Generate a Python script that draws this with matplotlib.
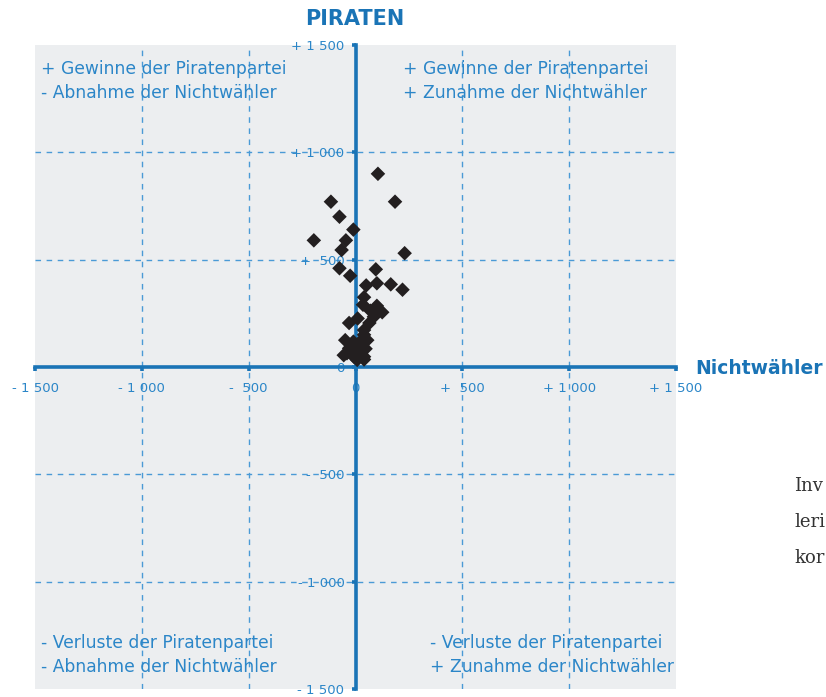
import matplotlib
matplotlib.use("Agg")
import matplotlib.pyplot as plt

# Veränderung Nichtwähler (x) vs. Piraten (y)
nichtwaehler = [105, -115, 185, -75, -10, -195, -45, -65, 230, -75, 95, -25,
                50, 100, 165, 220, 40, 35, 100, 70, 125, 10, 86, -30, 65,
                40, 40, -48, 55, -10, 22, 5, -30, 8, 47, -40, 23, -8, 40,
                8, 40, -15, -55, 30]
piraten = [900, 770, 770, 700, 640, 590, 590, 545, 530, 460, 455, 425,
           380, 390, 385, 360, 325, 290, 285, 262, 255, 226, 234, 205, 205,
           172, 150, 125, 125, 118, 118, 95, 87, 87, 85, 64, 70, 48, 48,
           33, 35, 75, 55, 100]

tick_vals = [-1500, -1000, -500, 0, 500, 1000, 1500]
x_labels = ["- 1 500", "- 1 000", "-  500", "0", "+  500", "+ 1 000", "+ 1 500"]
y_labels = ["- 1 500", "- 1 000", "-  500", "0", "+  500", "+ 1 000", "+ 1 500"]
grid_vals = [-1000, -500, 500, 1000]

# Quadrantentexte: (Text, x-Anteil, y-Anteil der Achse)
quadrants = [
    ("+ Gewinne der Piratenpartei", 0.009, 0.962),
    ("- Abnahme der Nichtwähler", 0.009, 0.925),
    ("+ Gewinne der Piratenpartei", 0.574, 0.962),
    ("+ Zunahme der Nichtwähler", 0.574, 0.925),
    ("- Verluste der Piratenpartei", 0.009, 0.071),
    ("- Abnahme der Nichtwähler", 0.009, 0.034),
    ("- Verluste der Piratenpartei", 0.616, 0.071),
    ("+ Zunahme der Nichtwähler", 0.616, 0.034),
]

axis_blue = "#1a74b6"
text_blue = "#2b86c8"
grid_blue = "#4a9ad6"

fig = plt.figure(figsize=(8.26, 6.97), dpi=100)
ax = fig.add_axes([35 / 826, 1 - 689 / 697, 641 / 826, 644 / 697])
ax.set_facecolor("#eceef0")
ax.set_xlim(-1500, 1500)
ax.set_ylim(-1500, 1500)

for v in grid_vals:
    ax.axhline(v, color=grid_blue, lw=1.0, dashes=(4, 4), zorder=1)
    ax.axvline(v, color=grid_blue, lw=1.0, dashes=(4, 4), zorder=1)

for s in ["top", "right"]:
    ax.spines[s].set_visible(False)
for s in ["left", "bottom"]:
    ax.spines[s].set_position("zero")
    ax.spines[s].set_color(axis_blue)
    ax.spines[s].set_linewidth(2.6)
    ax.spines[s].set_zorder(3)

ax.set_xticks(tick_vals)
ax.set_xticklabels(x_labels)
ax.set_yticks(tick_vals)
ax.set_yticklabels(y_labels)
ax.tick_params(axis="x", direction="out", length=3, width=2.6, color=axis_blue,
               labelcolor=text_blue, labelsize=9.5, pad=8)
ax.tick_params(axis="y", direction="out", length=3, width=2.6, color=axis_blue,
               labelcolor=text_blue, labelsize=9.5, pad=5)

ax.scatter(nichtwaehler, piraten, marker="D", s=55, color="#231f20",
           edgecolors="none", zorder=4, clip_on=False)

for txt, qx, qy in quadrants:
    ax.text(qx, qy, txt, transform=ax.transAxes, color=text_blue,
            fontsize=12.3, va="center", ha="left", zorder=2)

fig.text(355 / 826, 1 - 19 / 697, "PIRATEN", color=axis_blue, fontsize=15,
         fontweight="bold", ha="center", va="center")
fig.text(695 / 826, 1 - 369 / 697, "Nichtwähler", color=axis_blue,
         fontsize=13.5, fontweight="bold", ha="left", va="center")

# angeschnittener Fließtext rechts
for i, w in enumerate(["Inv", "leri", "kor"]):
    fig.text(794 / 826, 1 - (486 + i * 36) / 697, w, color="#333333",
             fontsize=13, family="DejaVu Serif", ha="left", va="center")

fig.savefig("out.png", dpi=100)
